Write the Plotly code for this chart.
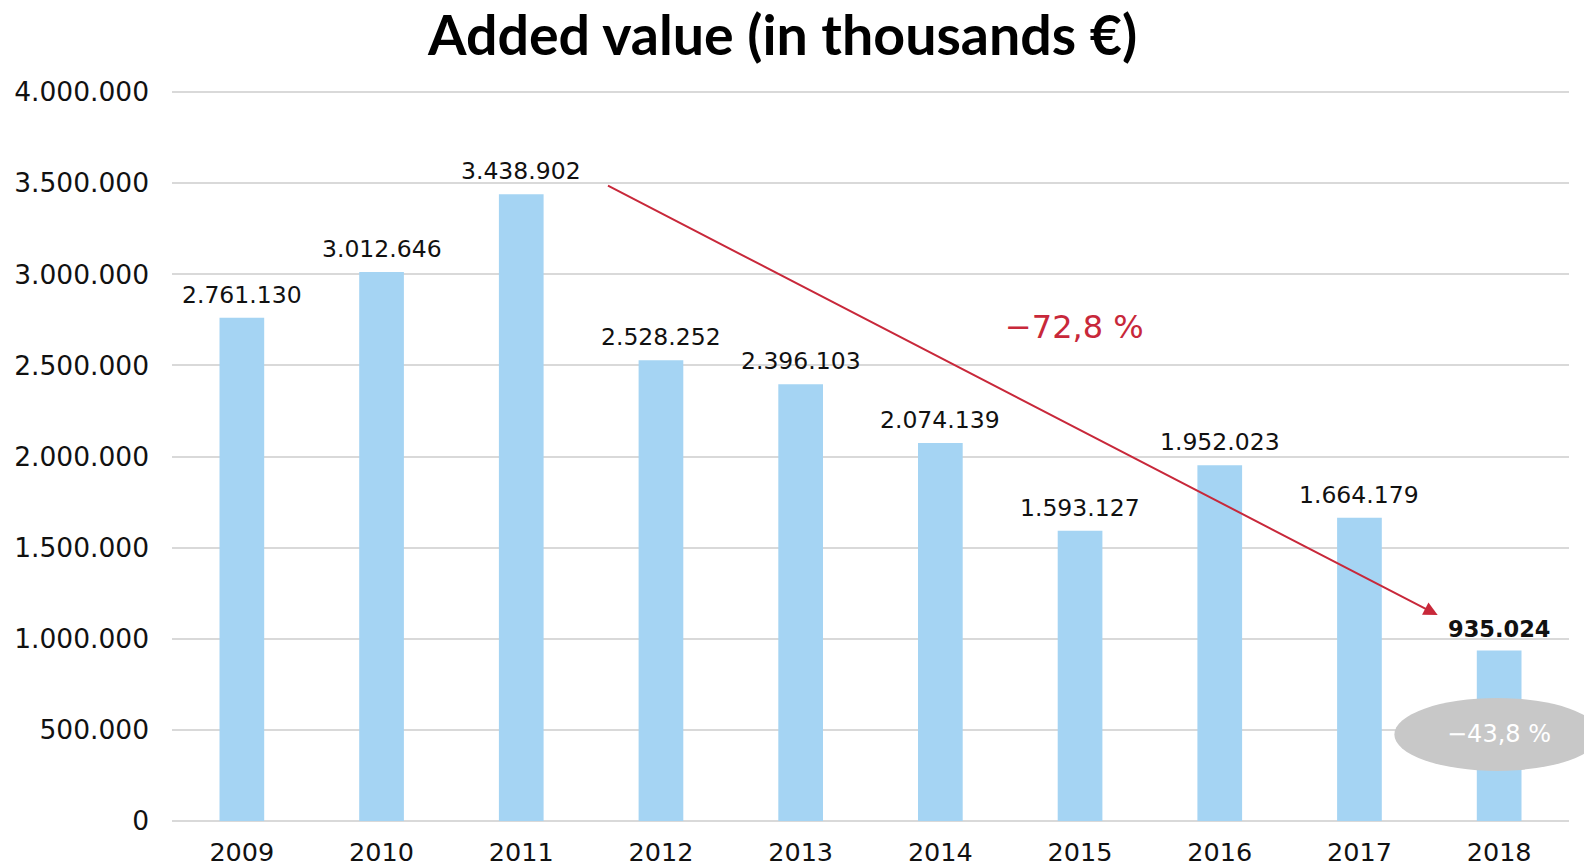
import plotly.graph_objects as go

years = ["2009", "2010", "2011", "2012", "2013", "2014", "2015", "2016", "2017", "2018"]
values = [2761130, 3012646, 3438902, 2528252, 2396103, 2074139, 1593127, 1952023, 1664179, 935024]
y_ticks = [0, 500000, 1000000, 1500000, 2000000, 2500000, 3000000, 3500000, 4000000]
title_text = "Added value (in thousands €)"
trend_label = "−72,8 %"
last_change_label = "−43,8 %"

def fmt(v):
    return f"{v:,}".replace(",", ".")

FONT = "DejaVu Sans"
xpos = list(range(len(years)))
fig = go.Figure()
fig.add_trace(go.Bar(x=xpos, y=values, marker=dict(color="#a5d4f3", line=dict(width=0)),
                     width=0.32, hoverinfo="skip"))

annotations = []
for i, v in zip(xpos, values):
    last = i == len(years) - 1
    annotations.append(dict(x=i, y=v, xref="x", yref="y", text=(f"<b>{fmt(v)}</b>" if last else fmt(v)),
                            showarrow=False, yanchor="bottom", yshift=7,
                            font=dict(family=FONT, size=22.5 if last else 23.5, color="#111111")))

# trend arrow from 2011 towards 2018
annotations.append(dict(x=8.56, y=1130000, ax=2.61, ay=3490000, xref="x", yref="y", axref="x", ayref="y",
                        text="", showarrow=True, arrowhead=2, arrowsize=1.4, arrowwidth=2,
                        arrowcolor="#c8283a", standoff=0))
annotations.append(dict(x=5.96, y=2710000, xref="x", yref="y", text=trend_label, showarrow=False,
                        font=dict(family=FONT, size=32, color="#c8283a")))

shapes = [dict(type="circle", xref="paper", yref="y", x0=0.875, x1=1.022, y0=275000, y1=675000,
               fillcolor="#c8c8c8", line=dict(width=0), layer="above")]
annotations.append(dict(x=9, y=475000, xref="x", yref="y", text=last_change_label, showarrow=False,
                        font=dict(family=FONT, size=24, color="white")))

# the page body has an 8px default margin: figure is sized/offset to compensate
fig.update_layout(
    width=1584, height=858,
    margin=dict(l=164, r=23, t=82, b=45, autoexpand=False),
    paper_bgcolor="white", plot_bgcolor="white",
    separators=",.",
    showlegend=False,
    title=dict(text=f"<b>{title_text}</b>", x=0.489, xanchor="center", y=1 - 28 / 858, yanchor="middle",
               yref="container", automargin=False, font=dict(family="Lato", size=55.5, color="black")),
    xaxis=dict(range=[-0.5, len(years) - 0.5], tickvals=xpos, ticktext=years, automargin=False,
               tickfont=dict(family=FONT, size=25.5, color="#111111"),
               showgrid=False, showline=False, zeroline=False, ticks="", ticklabelstandoff=13),
    yaxis=dict(range=[0, 4011000], tickvals=y_ticks, tickformat=",d", automargin=False,
               tickfont=dict(family=FONT, size=26.5, color="#111111"),
               showgrid=True, gridcolor="#d9d9d9", gridwidth=2, zeroline=True, zerolinecolor="#d9d9d9",
               zerolinewidth=2, showline=False, ticks="", ticklabelstandoff=22),
    annotations=annotations,
    shapes=shapes,
)

fig.write_html("out.html")
